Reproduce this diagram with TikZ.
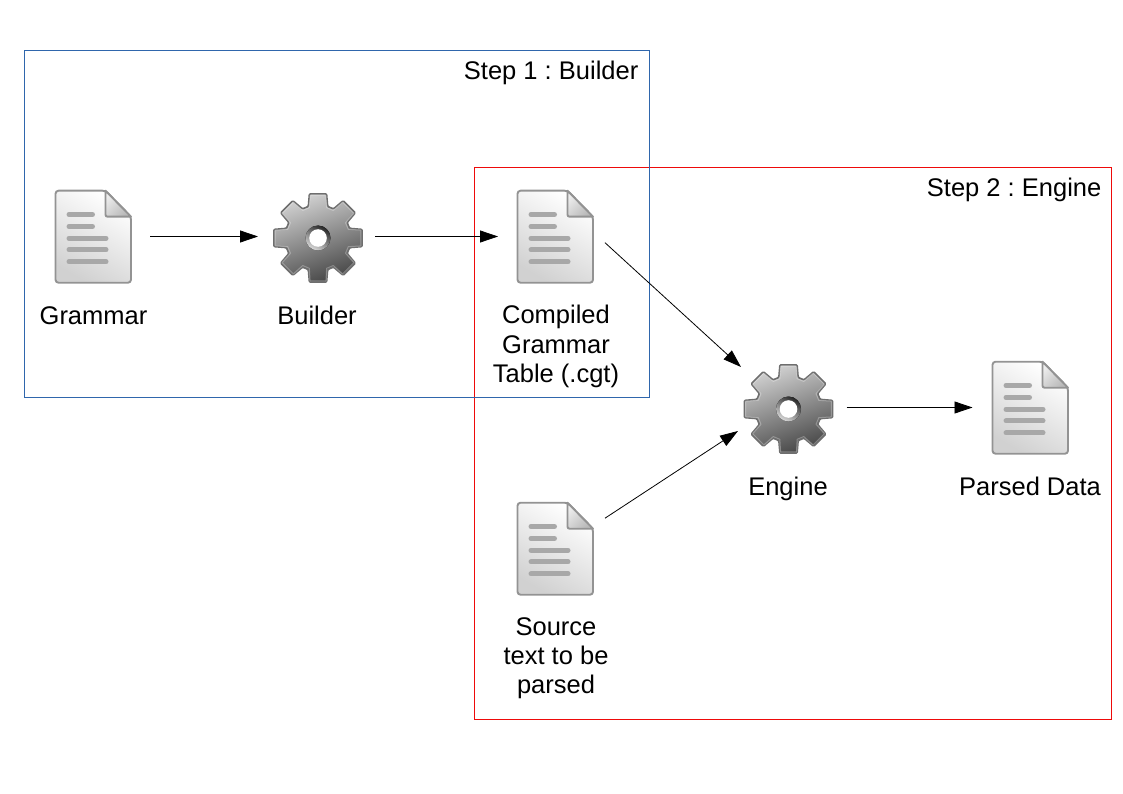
\documentclass[tikz,border=0pt]{standalone}
\usepackage{fontspec}
\setmainfont{Liberation Sans}
\frenchspacing
\usetikzlibrary{arrows.meta,calc}
\definecolor{frameblue}{HTML}{2F66AC}
\definecolor{framered}{HTML}{EE0A0A}
\definecolor{iconedge}{HTML}{939393}
\definecolor{iconline}{HTML}{A8A8A8}
\definecolor{gearedge}{HTML}{6E6E6E}
\tikzset{
  x=1pt,y=-1pt,
  flow/.style={draw=black,line width=0.8pt,-{Triangle[length=18pt,width=12pt]}},
  stepframe/.style={line width=1pt},
  caption/.style={font=\fontsize{25.5}{29.2}\selectfont,align=center,inner sep=0pt,text=black},
  steplabel/.style={font=\fontsize{25.5}{29.2}\selectfont,anchor=east,inner sep=0pt,text=black},
  iconbox/.style={inner sep=0pt,outer sep=0pt,minimum width=#1,minimum height=#1},
  textline/.style={line width=5pt,draw=iconline,line cap=round}
}
% document icon: top-left at (#2,#3)
\newcommand{\docicon}[3]{%
  \node[iconbox=76pt,minimum height=92pt] (#1) at (#2+38,#3+46) {};
  \begin{scope}[shift={(#2,#3)}]
    \draw[iconedge,line width=1.9pt,rounded corners=3pt,left color=white,right color=white!82!black,shading angle=-30]
      (0,0) -- (50,0) -- (75.5,26) -- (75.5,92) -- (0,92) -- cycle;
    \draw[iconedge,line width=1.9pt,line join=round,top color=white!93!black,bottom color=white!72!black,shading angle=45]
      (50,0) -- (75.5,26) -- (54,26) [rounded corners=2pt] -- (50,26) [sharp corners] -- cycle;
    \foreach \yy/\xx in {23.8/37,35.8/37,47.5/50.5,59.2/50.5,71.2/50.5}
      \draw[textline] (13.5,\yy) -- (\xx,\yy);
  \end{scope}
}
% gear icon centred at (#2,#3)
\newcommand{\gearicon}[3]{%
  \node[iconbox=90pt] (#1) at (#2,#3) {};
  \begin{scope}[shift={(#2,#3)},y=1pt]
    \draw[draw=gearedge,line width=1.6pt,line join=round,rounded corners=1pt,
          top color=white!82!black,bottom color=white!28!black,shading angle=20]
      (-17:33) -- (-11:45) -- (11:45) -- (17:33)
      -- (28:33) -- (34:45) -- (56:45) -- (62:33)
      -- (73:33) -- (79:45) -- (101:45) -- (107:33)
      -- (118:33) -- (124:45) -- (146:45) -- (152:33)
      -- (163:33) -- (169:45) -- (191:45) -- (197:33)
      -- (208:33) -- (214:45) -- (236:45) -- (242:33)
      -- (253:33) -- (259:45) -- (281:45) -- (287:33)
      -- (298:33) -- (304:45) -- (326:45) -- (332:33)
      -- cycle;
    \draw[white,opacity=0.28,line width=1pt,line join=round]
      (-16:31.5) -- (-10.5:43.5) -- (10.5:43.5) -- (16:31.5)
      -- (29:31.5) -- (34.5:43.5) -- (55.5:43.5) -- (61:31.5)
      -- (74:31.5) -- (79.5:43.5) -- (100.5:43.5) -- (106:31.5)
      -- (119:31.5) -- (124.5:43.5) -- (145.5:43.5) -- (151:31.5)
      -- (164:31.5) -- (169.5:43.5) -- (190.5:43.5) -- (196:31.5)
      -- (209:31.5) -- (214.5:43.5) -- (235.5:43.5) -- (241:31.5)
      -- (254:31.5) -- (259.5:43.5) -- (280.5:43.5) -- (286:31.5)
      -- (299:31.5) -- (304.5:43.5) -- (325.5:43.5) -- (331:31.5)
      -- cycle;
    \fill[top color=white!15!black,bottom color=white!85!black,shading angle=-30] (0,0) circle[radius=12.5pt];
    \fill[white] (0,0) circle[radius=8.8pt];
  \end{scope}
}
\begin{document}
\begin{tikzpicture}
\useasboundingbox (0,0) rectangle (1123,794);
\node[inner sep=0pt,minimum width=637pt,minimum height=552pt,draw=framered,stepframe] (enginebox) at (793,443.5) {};
\node[inner sep=0pt,minimum width=625pt,minimum height=347pt,draw=frameblue,stepframe] (builderbox) at (337,224) {};
\node[steplabel] (steplabelone) at (638.5,72.5) {Step 1 : Builder};
\node[steplabel] (steplabeltwo) at (1101.5,189.5) {Step 2 : Engine};

\docicon{grammar}{55.5}{190.7}
\gearicon{builder}{318}{238}
\docicon{compiled}{517.5}{190.7}
\gearicon{engine}{788.5}{409}
\docicon{parsed}{992.5}{361.7}
\docicon{source}{517.5}{502.7}

\node[caption] (grammarlabel) at (93.5,315.5) {Grammar};
\node[caption] (builderlabel) at (317,315) {Builder};
\node[caption] (compiledlabel) at (556,346.5) {Compiled\\Grammar\\Table (.cgt)};
\node[caption] (enginelabel) at (788,488.5) {Engine};
\node[caption] (parsedlabel) at (1030,486) {Parsed Data};
\node[caption] (sourcelabel) at (556,658.3) {Source\\text to be\\parsed};

\draw[flow] ([xshift=18.5pt]grammar.east |- 0,236.5) -- ([xshift=-15pt]builder.west |- 0,236.5);
\draw[flow] ([xshift=12pt]builder.east |- 0,236.5) -- ([xshift=-19.5pt]compiled.west |- 0,236.5);
\draw[flow] ($(compiled.center)+(49.5,6)$) -- ($(engine.center)+(-47.5,-42)$);
\draw[flow] ($(source.center)+(49.5,-30.5)$) -- ($(engine.center)+(-50.5,22)$);
\draw[flow] ([xshift=13pt]engine.east |- 0,407.5) -- ([xshift=-20pt]parsed.west |- 0,407.5);
\end{tikzpicture}
\end{document}
